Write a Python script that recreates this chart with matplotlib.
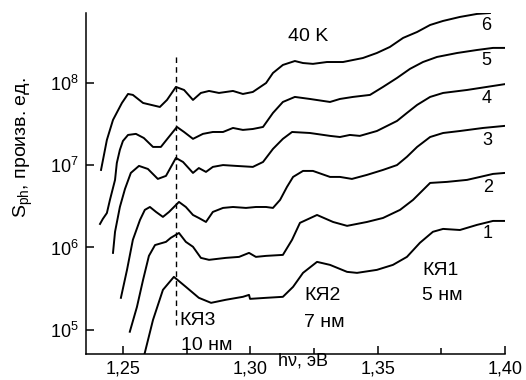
import matplotlib
matplotlib.use("Agg")
import matplotlib.pyplot as plt
from matplotlib.ticker import FixedLocator, NullLocator, FuncFormatter

plt.rcParams['font.family'] = ['Liberation Sans', 'DejaVu Sans']
plt.rcParams['mathtext.fontset'] = 'custom'
plt.rcParams['mathtext.rm'] = 'Liberation Sans'
plt.rcParams['mathtext.it'] = 'Liberation Sans:italic'

# photocurrent spectra, 40 K, curves 1..6 (shifted along log axis)
e6 = [1.2414, 1.2437, 1.2461, 1.2496, 1.2520, 1.2539, 1.2579, 1.2645, 1.2673, 1.2708,
      1.2740, 1.2775, 1.2806, 1.2838, 1.2877, 1.2932, 1.2971, 1.3010, 1.3062, 1.3089,
      1.3128, 1.3175, 1.3207, 1.3246, 1.3301, 1.3364, 1.3442, 1.3497, 1.3548, 1.3600,
      1.3655, 1.3706, 1.3757, 1.3823, 1.3890, 1.3941]
s6 = [8.73e6, 2.02e7, 3.53e7, 5.67e7, 7.29e7, 7.10e7, 5.67e7, 5.07e7, 6.17e7, 8.87e7,
      8.15e7, 6.17e7, 7.50e7, 7.93e7, 7.50e7, 7.93e7, 7.29e7, 7.71e7, 9.9e7, 1.31e8,
      1.64e8, 1.83e8, 1.73e8, 1.69e8, 1.78e8, 1.78e8, 1.99e8, 2.29e8, 2.71e8, 3.49e8,
      4.12e8, 5.01e8, 5.61e8, 6.27e8, 6.82e8, 7.0e8]

e5 = [1.2410, 1.2421, 1.2437, 1.2449, 1.2469, 1.2476, 1.2488, 1.2500, 1.2520, 1.2551,
      1.2582, 1.2618, 1.2649, 1.2677, 1.2712, 1.2740, 1.2775, 1.2814, 1.2853, 1.2893,
      1.2932, 1.2971, 1.3010, 1.3050, 1.3089, 1.3128, 1.3175, 1.3234, 1.3313, 1.3352,
      1.3403, 1.3470, 1.3521, 1.3576, 1.3627, 1.3678, 1.3733, 1.3812, 1.3890, 1.3953,
      1.4000]
s5 = [1.93e6, 2.22e6, 2.62e6, 3.78e6, 6.61e6, 1.06e7, 1.53e7, 1.96e7, 2.32e7, 2.39e7,
      2.13e7, 1.66e7, 1.66e7, 2.13e7, 2.90e7, 2.52e7, 2.08e7, 2.39e7, 2.52e7, 2.52e7,
      2.82e7, 2.67e7, 2.74e7, 2.90e7, 4.29e7, 5.83e7, 6.71e7, 6.34e7, 5.83e7, 6.34e7,
      6.71e7, 7.10e7, 8.87e7, 1.14e8, 1.47e8, 1.78e8, 2.05e8, 2.29e8, 2.49e8, 2.64e8,
      2.64e8]

e4 = [1.2461, 1.2469, 1.2488, 1.2508, 1.2531, 1.2563, 1.2598, 1.2637, 1.2669, 1.2708,
      1.2736, 1.2775, 1.2798, 1.2826, 1.2853, 1.2893, 1.2944, 1.3010, 1.3050, 1.3089,
      1.3128, 1.3164, 1.3234, 1.3313, 1.3352, 1.3391, 1.3430, 1.3497, 1.3576, 1.3615,
      1.3655, 1.3706, 1.3757, 1.3851, 1.4000]
s4 = [8.6e5, 1.55e6, 3.10e6, 5.13e6, 8.03e6, 9.77e6, 8.97e6, 6.79e6, 7.39e6, 1.22e7,
      1.09e7, 8.03e6, 9.2e6, 8.26e6, 9.5e6, 1.00e7, 9.77e6, 9.5e6, 1.09e7, 1.57e7,
      2.08e7, 2.52e7, 2.45e7, 2.26e7, 2.19e7, 2.32e7, 2.26e7, 2.59e7, 3.43e7, 4.29e7,
      5.37e7, 6.71e7, 7.50e7, 8.15e7, 9.6e7]

e3 = [1.2492, 1.2516, 1.2539, 1.2567, 1.2586, 1.2606, 1.2630, 1.2657, 1.2681, 1.2720,
      1.2747, 1.2775, 1.2798, 1.2826, 1.2853, 1.2893, 1.2932, 1.2983, 1.3022, 1.3062,
      1.3089, 1.3117, 1.3144, 1.3168, 1.3207, 1.3246, 1.3313, 1.3352, 1.3399, 1.3458,
      1.3521, 1.3576, 1.3615, 1.3655, 1.3706, 1.3757, 1.3823, 1.3914, 1.4000]
s3 = [2.45e5, 5.35e5, 1.24e6, 2.16e6, 2.86e6, 3.10e6, 2.70e6, 2.35e6, 2.70e6, 3.57e6,
      3.10e6, 2.48e6, 2.28e6, 2.04e6, 2.70e6, 3.02e6, 3.10e6, 3.02e6, 3.10e6, 3.10e6,
      3.02e6, 3.78e6, 5.43e6, 7.18e6, 8.49e6, 8.49e6, 7.18e6, 7.18e6, 6.79e6, 7.60e6,
      8.73e6, 1.00e7, 1.26e7, 1.66e7, 2.19e7, 2.45e7, 2.59e7, 2.82e7, 2.99e7]

e2 = [1.2527, 1.2555, 1.2579, 1.2602, 1.2626, 1.2669, 1.2688, 1.2720, 1.2747, 1.2775,
      1.2806, 1.2838, 1.2904, 1.2956, 1.2995, 1.3022, 1.3062, 1.3128, 1.3164, 1.3195,
      1.3262, 1.3325, 1.3380, 1.3458, 1.3521, 1.3588, 1.3639, 1.3706, 1.3772, 1.3851,
      1.3902, 1.3953, 1.4000]
s2 = [9.5e4, 1.90e5, 4.04e5, 7.91e5, 1.07e6, 1.17e6, 1.31e6, 1.50e6, 1.17e6, 1.02e6,
      7.48e5, 7.08e5, 7.48e5, 7.69e5, 8.6e5, 7.69e5, 7.91e5, 8.13e5, 1.24e6, 1.99e6,
      2.48e6, 2.04e6, 1.83e6, 2.04e6, 2.28e6, 2.86e6, 3.78e6, 6.07e6, 6.25e6, 6.61e6,
      7.18e6, 7.81e6, 8.03e6]

e1 = [1.2579, 1.2618, 1.2657, 1.2700, 1.2747, 1.2798, 1.2846, 1.2904, 1.2971, 1.2995,
      1.2999, 1.3062, 1.3128, 1.3168, 1.3207, 1.3262, 1.3313, 1.3380, 1.3419, 1.3497,
      1.3560, 1.3615, 1.3666, 1.3717, 1.3757, 1.3823, 1.3890, 1.3953, 1.4000]
s1 = [4.33e4, 1.32e5, 3.06e5, 4.40e5, 3.33e5, 2.45e5, 2.13e5, 2.32e5, 2.52e5, 2.66e5,
      2.38e5, 2.45e5, 2.52e5, 3.33e5, 4.92e5, 6.69e5, 6.15e5, 5.06e5, 4.92e5, 5.35e5,
      6.15e5, 7.69e5, 1.14e6, 1.55e6, 1.68e6, 1.63e6, 1.88e6, 2.10e6, 2.10e6]

curves = [(e1, s1), (e2, s2), (e3, s3), (e4, s4), (e5, s5), (e6, s6)]
curve_names = ['1', '2', '3', '4', '5', '6']

kya3_e = 1.2707          # dashed marker of the QW3 peak
kya3_span = (1.15e5, 2.17e8)

W, H = 526, 380
fig = plt.figure(figsize=(W / 100, H / 100), dpi=100)
ax = fig.add_axes([86 / W, 1 - 354 / H, 419 / W, 341 / H])

for e, s in curves:
    ax.plot(e, s, color='black', lw=1.4, solid_joinstyle='round')

ax.vlines(kya3_e, *kya3_span, colors='black', lw=1.0, linestyles=(0, (4, 3)))

ax.set_yscale('log')
ax.set_xlim(1.2355, 1.40)
ax.set_ylim(5.1e4, 7.0e8)
ax.xaxis.set_major_locator(FixedLocator([1.25, 1.30, 1.35, 1.40]))
ax.xaxis.set_minor_locator(FixedLocator([1.275, 1.325, 1.375]))
ax.xaxis.set_major_formatter(FuncFormatter(lambda v, p: f"{v:.2f}".replace('.', ',')))
ax.yaxis.set_minor_locator(NullLocator())

for side in ['top', 'right']:
    ax.spines[side].set_visible(False)
for side in ['left', 'bottom']:
    ax.spines[side].set_linewidth(1.1)
ax.tick_params(which='both', direction='in', width=1.1, labelsize=13)
ax.tick_params(which='major', length=5.5, pad=5)
ax.tick_params(which='minor', length=4.5)

def px(x, y):
    return x / W, 1 - y / H

fig.text(*px(23, 148), r'S$_{\mathrm{ph}}$, произв. ед.', rotation=90, ha='center', va='center', fontsize=14)
fig.text(*px(303, 366), 'hν, эВ', ha='center', va='baseline', fontsize=13)
fig.text(*px(308, 41), '40 K', ha='center', va='baseline', fontsize=14)

name_pos = [(488, 238), (488, 192), (487, 145), (487, 103), (486, 65), (486, 30)]
for name, (x, y) in zip(curve_names, name_pos):
    fig.text(*px(x, y), name, ha='center', va='baseline', fontsize=13)

fig.text(*px(422, 275), 'КЯ1', ha='left', va='baseline', fontsize=14)
fig.text(*px(422, 300), '5 нм', ha='left', va='baseline', fontsize=14)
fig.text(*px(304, 300), 'КЯ2', ha='left', va='baseline', fontsize=14)
fig.text(*px(304, 327), '7 нм', ha='left', va='baseline', fontsize=14)
fig.text(*px(179, 325), 'КЯ3', ha='left', va='baseline', fontsize=14)
fig.text(*px(181, 350), '10 нм', ha='left', va='baseline', fontsize=14)

fig.savefig('out.png', dpi=100)
